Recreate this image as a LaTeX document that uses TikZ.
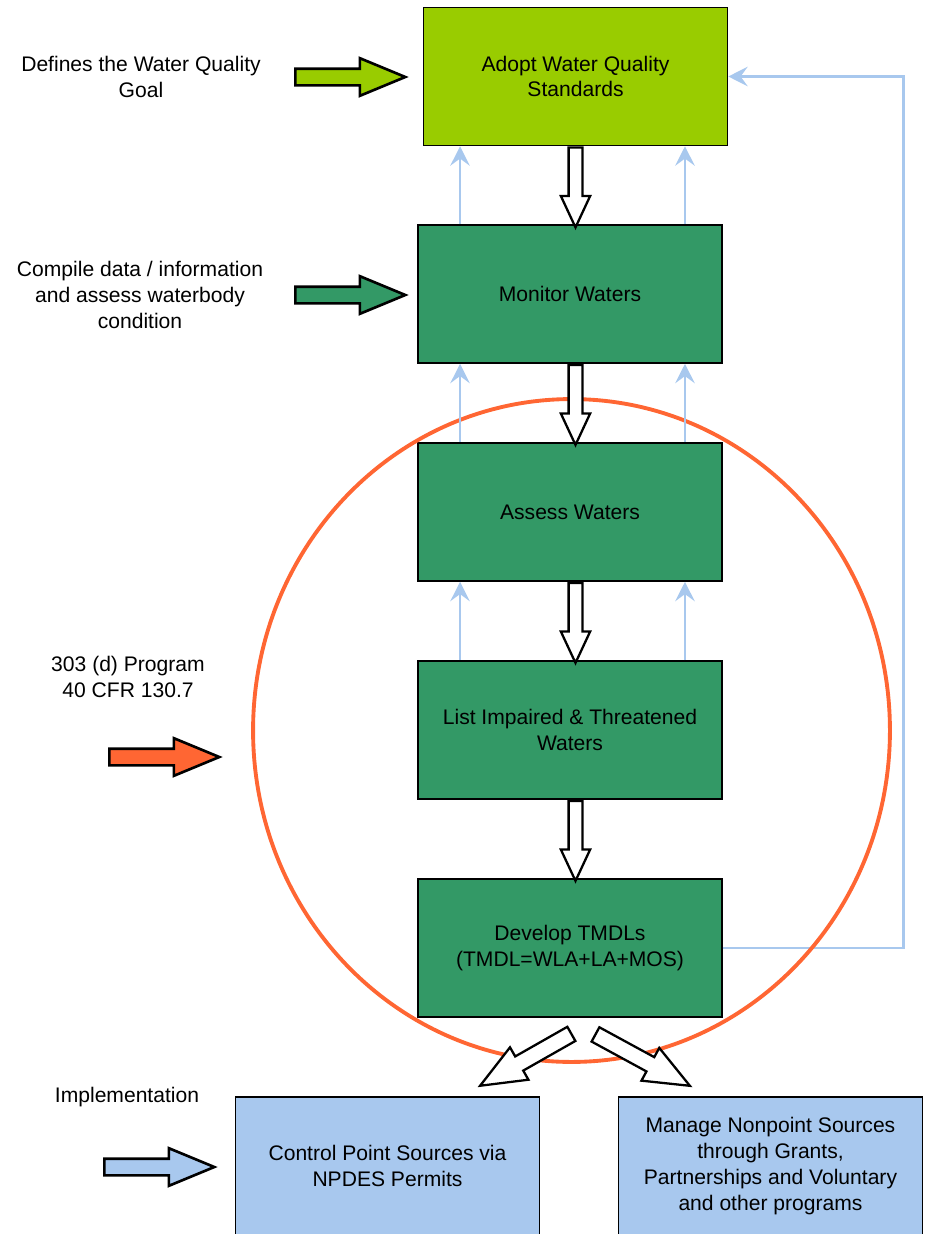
\documentclass[tikz,border=0pt]{standalone}
\usepackage{fontspec}
\setmainfont{Liberation Sans}
\usetikzlibrary{shapes.arrows,arrows.meta}
\definecolor{wqlime}{HTML}{99CC00}
\definecolor{wqgreen}{HTML}{339966}
\definecolor{wqsky}{HTML}{A8C8EE}
\definecolor{wqorange}{HTML}{FF6633}
\tikzset{
  stage/.style={draw, line width=0.9pt, minimum width=6.08cm, minimum height=2.76cm, align=center},
  note/.style={align=center},
  bigarrow/.style={single arrow, draw, line width=1.5pt, inner xsep=0pt, inner ysep=0.14cm,
    single arrow head extend=0.21cm, single arrow tip angle=45, minimum height=2.2cm, anchor=tail},
  hollow/.style={single arrow, draw, fill=white, line width=1.3pt, inner xsep=0pt, inner ysep=0.115cm,
    single arrow head extend=0.155cm, single arrow tip angle=50, sloped, allow upside down},
  split/.style={hollow, inner ysep=0.14cm, single arrow head extend=0.21cm, single arrow tip angle=45},
  upline/.style={draw=wqsky, line width=1.6pt, -{Stealth[length=11pt, width=11pt, inset=4pt]}}
}
\begin{document}
\begin{tikzpicture}[x=0.02cm, y=-0.02cm, font=\fontsize{12}{14.7}\selectfont]
        \useasboundingbox (0,0) rectangle (928,1234);
        \clip (0,0) rectangle (928,1234);
        \node[stage, fill=wqlime] (adopt) at (575.5,76.5) {Adopt Water Quality\\Standards};
        \node[stage, fill=wqgreen] (monitor) at (570,294) {Monitor Waters};
        \node[stage, fill=wqgreen] (assess) at (570,512) {Assess Waters};
        \node[stage, fill=wqgreen] (list) at (570,730) {List Impaired \& Threatened\\Waters};
        \node[stage, fill=wqgreen] (tmdl) at (570,948) {Develop TMDLs\\(TMDL=WLA+LA+MOS)};
        \node[stage, fill=wqsky] (cps) at (387.5,1166) {Control Point Sources via\\NPDES Permits};
        \node[stage, fill=wqsky] (nps) at (770.5,1166) {Manage Nonpoint Sources\\through Grants,\\Partnerships and Voluntary\\and other programs};
        \node[note] (goal) at (141,77) {Defines the Water Quality\\Goal};
        \node[note] (data) at (140,295) {Compile data / information\\and assess waterbody\\condition};
        \node[note] (prog) at (128,677) {303 (d) Program\\40 CFR 130.7};
        \node (impl) at (127,1097) {Implementation};
        \node[bigarrow, fill=wqlime] (goalarrow) at (294,77) {};
        \node[bigarrow, fill=wqgreen] (dataarrow) at (294,295) {};
        \node[bigarrow, fill=wqorange] (progarrow) at (108,757) {};
        \node[bigarrow, fill=wqsky] (implarrow) at (103,1167) {};
        \draw[upline] (tmdl.east) -- ++(181,0) |- (adopt.east);
        \draw[wqorange, line width=2.2pt] (571.5,730.5) ellipse [x radius=6.37cm, y radius=6.63cm];
        \foreach \a/\b in {adopt/monitor, monitor/assess, assess/list} {
          \draw[upline] ([xshift=-2.2cm]\b.north) -- ([xshift=-2.2cm]\b.north |- \a.south);
          \draw[upline] ([xshift=2.3cm]\b.north) -- ([xshift=2.3cm]\b.north |- \a.south);
        }
        \foreach \a/\b in {adopt/monitor, monitor/assess, assess/list, list/tmdl}
          \path (\a.south -| adopt) -- (\b.north -| adopt) node[hollow, pos=0, anchor=tail, minimum height=1.6cm] (to\b) {};
        \path ([shift={(-2,18)}]tmdl.south) -- ([shift={(90,-9)}]cps.north) node[split, pos=1, anchor=tip, minimum height=2.1cm] (tocps) {};
        \path ([shift={(28,18)}]tmdl.south) -- ([shift={(-78,-9)}]nps.north) node[split, pos=1, anchor=tip, minimum height=2.15cm] (tonps) {};
\end{tikzpicture}
\end{document}
